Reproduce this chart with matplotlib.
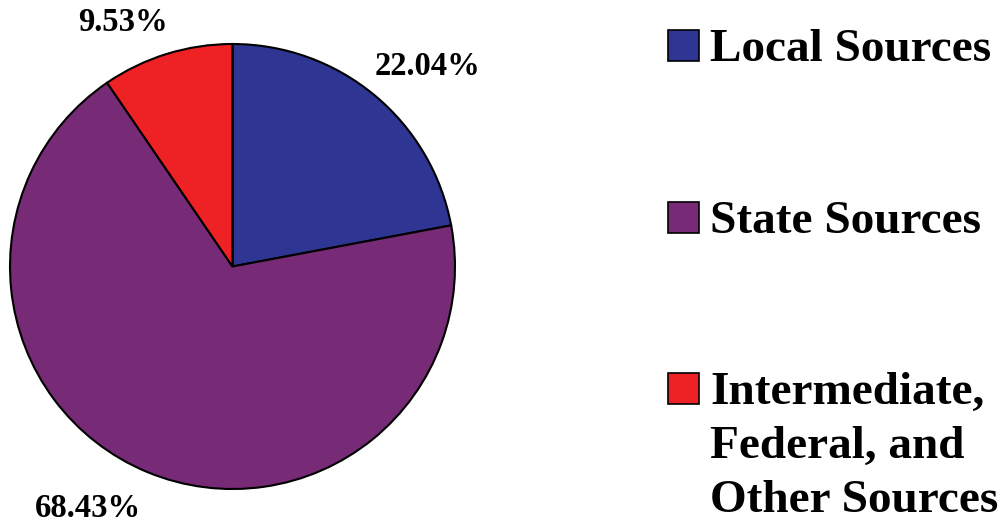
import matplotlib.pyplot as plt
from matplotlib.patches import Rectangle

plt.rcParams["font.family"] = ["Liberation Serif", "DejaVu Serif"]
plt.rcParams["font.weight"] = "bold"

categories = ["Local Sources", "State Sources", "Intermediate,\nFederal, and\nOther Sources"]
shares = [22.04, 68.43, 9.53]
colors = ["#2E3592", "#772A76", "#EE2224"]
pct_labels = ["22.04%", "68.43%", "9.53%"]

W, H = 1007, 522
fig = plt.figure(figsize=(W / 100, H / 100), dpi=100)
ax = fig.add_axes([0, 0, 1, 1])

ax.pie(shares, colors=colors, startangle=90, counterclock=False,
       center=(232.5, H - 266.5), radius=222.5,
       wedgeprops=dict(edgecolor="black", linewidth=1.5))

# percent labels, placed in pixel space (y measured from top)
label_pos = [(428, 75), (88, 517), (123, 31)]
for (x, y), txt in zip(label_pos, pct_labels):
    ax.text(x, H - y, txt, ha="center", va="baseline", fontsize=23.5, fontweight="bold")

# legend: swatch + label, one baseline per text line
legend_top = [30, 202, 373]
line_step = 54
for top, col, cat in zip(legend_top, colors, categories):
    ax.add_patch(Rectangle((668, H - top - 31), 31, 31, facecolor=col,
                           edgecolor="black", linewidth=1.2))
    for i, line in enumerate(cat.split("\n")):
        ax.text(710, H - top - 31 - i * line_step, line, ha="left", va="baseline",
                fontsize=34, fontweight="bold")

ax.set_xlim(0, W)
ax.set_ylim(0, H)
ax.set_aspect("equal")
ax.axis("off")
fig.savefig("out.png", dpi=100)
